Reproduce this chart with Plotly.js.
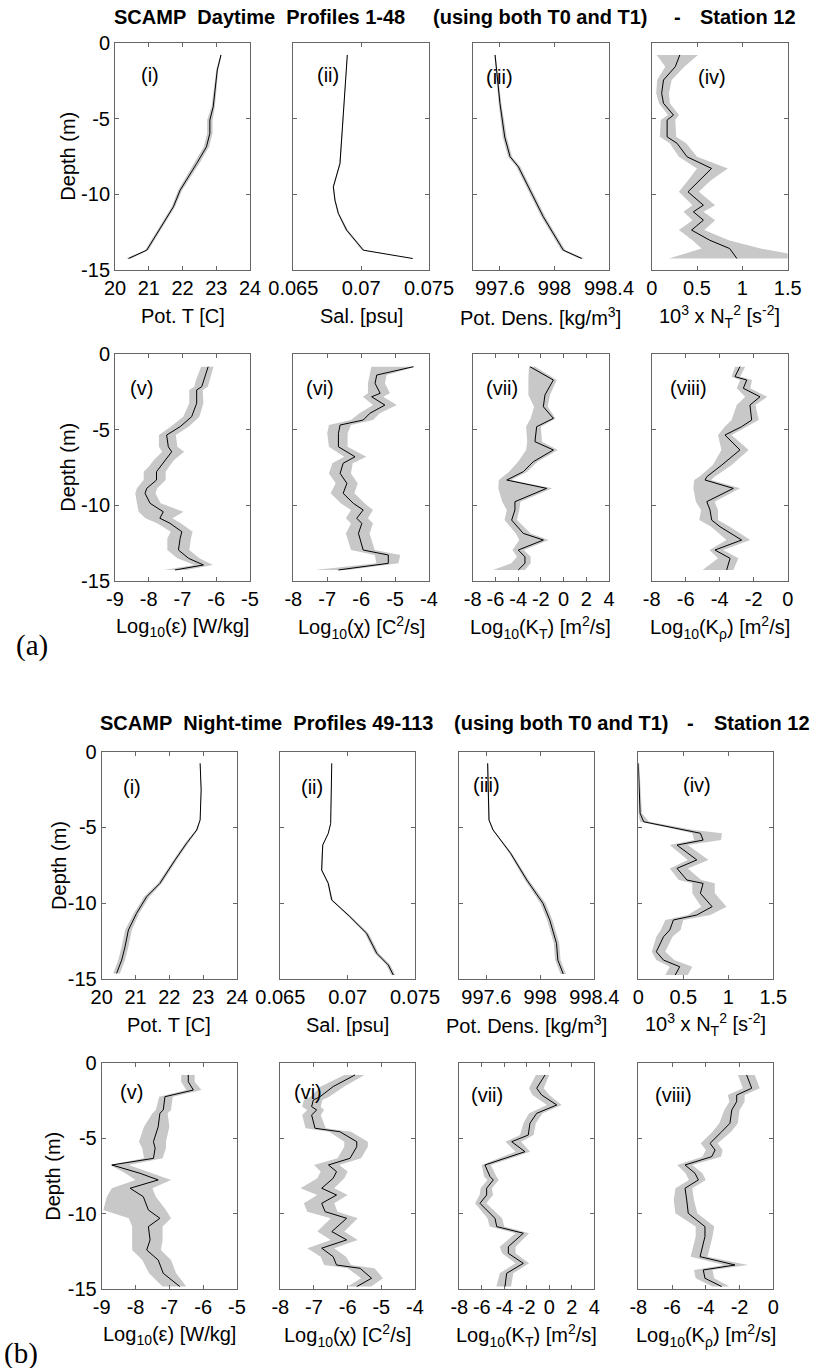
<!DOCTYPE html>
<html>
<head>
<meta charset="utf-8">
<script src="https://cdn.plot.ly/plotly-3.0.1.min.js"></script>
<style>html,body{margin:0;padding:0;background:#fff;}#chart{width:820px;height:1368px;}</style>
</head>
<body>
<div id="chart"></div>
<script>
// ===================== DATA =====================
// (a) Daytime, profiles 1-48
// (i) Potential temperature
const dayTDepth = [-0.77,-1.77,-4.2,-5.08,-5.96,-6.85,-7.95,-9.72,-10.82,-12.58,-13.69,-14.24];
const dayT      = [23.14,23.03,22.91,22.81,22.81,22.71,22.42,21.93,21.73,21.24,20.94,20.40];
const dayTErr   = [0.02,0.03,0.05,0.08,0.08,0.08,0.08,0.06,0.05,0.05,0.05,0.08];
// (ii) Salinity
const daySDepth = [-0.77,-5.08,-7.95,-9.5,-10.38,-11.26,-12.36,-13.69,-14.24];
const dayS      = [0.06898,0.06868,0.06844,0.06795,0.06807,0.06832,0.06893,0.07016,0.0738];
const daySErr   = [0.00003,0.00004,0.00005,0.00005,0.00005,0.00006,0.0001,0.0001,0.00015];
// (iii) Potential density
const dayDDepth = [-0.77,-3.97,-6.2,-7.5,-8.17,-11.48,-13.69,-14.24];
const dayD      = [997.564,997.6,997.635,997.674,997.735,997.918,998.065,998.2];
const dayDErr   = [0.005,0.01,0.015,0.015,0.015,0.015,0.015,0.02];
// (iv) 10^3 x N_T^2
const dayNDepth = [-0.77,-1.55,-2.43,-3.31,-3.97,-4.75,-5.08,-6.19,-6.62,-7.51,-8.28,-9.07,-9.83,-10.71,-11.15,-11.7,-12.36,-13.03,-13.58,-14.24];
const dayN      = [0.31,0.26,0.13,0.11,0.13,0.24,0.17,0.17,0.28,0.39,0.66,0.53,0.40,0.57,0.46,0.57,0.44,0.64,0.86,0.94];
const dayNLo    = [0.055,0.15,0.06,0.05,0.08,0.18,0.10,0.09,0.20,0.30,0.50,0.40,0.30,0.45,0.35,0.45,0.30,0.45,0.55,0.19];
const dayNHi    = [0.51,0.36,0.22,0.19,0.20,0.30,0.26,0.27,0.38,0.50,0.84,0.65,0.52,0.70,0.57,0.70,0.58,0.85,1.20,1.80];
// (v) log10 epsilon
const dayEDepth = [-0.82,-1.70,-2.14,-2.36,-3.24,-4.13,-4.79,-5.34,-6.12,-6.45,-7.0,-7.44,-7.77,-8.32,-8.87,-9.2,-9.86,-10.42,-10.85,-11.18,-11.74,-12.18,-12.95,-13.5,-13.94,-14.27];
const dayE      = [-6.24,-6.38,-6.43,-6.58,-6.58,-6.73,-7.07,-7.47,-7.42,-7.32,-7.50,-7.67,-7.77,-7.77,-8.06,-8.11,-7.96,-7.57,-7.67,-7.37,-7.02,-7.07,-7.12,-6.82,-6.38,-7.22];
const dayELo    = [-6.45,-6.60,-6.65,-6.80,-6.80,-6.98,-7.35,-7.70,-7.70,-7.60,-7.85,-8.00,-8.15,-8.15,-8.35,-8.40,-8.35,-8.30,-8.10,-7.75,-7.35,-7.45,-7.45,-7.15,-6.65,-7.55];
const dayEHi    = [-6.08,-6.20,-6.25,-6.40,-6.38,-6.50,-6.82,-7.20,-7.15,-6.95,-7.25,-7.40,-7.50,-7.50,-7.75,-7.80,-7.65,-6.97,-7.30,-7.05,-6.70,-6.75,-6.80,-6.50,-6.10,-6.90];
// (vi) log10 chi
const dayCDepth = [-0.82,-1.37,-1.92,-2.58,-2.81,-3.36,-3.9,-4.35,-4.68,-5.23,-6.12,-6.78,-7.21,-7.88,-8.54,-9.2,-9.86,-10.3,-10.85,-11.19,-11.85,-12.95,-13.28,-13.83,-14.27];
const dayC      = [-4.46,-5.54,-5.59,-5.44,-5.69,-5.30,-5.74,-5.94,-6.62,-6.67,-6.67,-6.18,-6.53,-6.62,-6.42,-6.53,-6.23,-5.94,-6.13,-5.98,-6.08,-5.94,-5.20,-5.20,-6.67];
const dayCLo    = [-5.70,-5.75,-5.80,-5.80,-5.95,-5.65,-6.05,-6.30,-6.95,-7.00,-6.95,-6.50,-6.85,-6.95,-6.75,-6.90,-6.60,-6.30,-6.45,-6.30,-6.45,-6.30,-5.60,-5.55,-7.35];
const dayCHi    = [-4.40,-5.25,-5.30,-5.15,-5.35,-4.95,-5.45,-5.65,-6.30,-6.40,-6.40,-5.85,-6.25,-6.30,-6.10,-6.20,-5.90,-5.65,-5.80,-5.65,-5.75,-5.60,-4.85,-4.90,-6.40];
// (vii) log10 K_T
const dayKTDepth = [-0.82,-1.70,-2.69,-3.47,-4.24,-4.79,-5.78,-6.33,-7.11,-7.77,-8.32,-8.87,-9.75,-10.3,-10.97,-11.85,-12.29,-12.95,-13.4,-13.83,-14.27];
const dayKT      = [-2.96,-0.90,-1.64,-1.78,-0.90,-2.37,-2.52,-0.90,-2.67,-3.55,-5.0,-1.49,-4.28,-4.28,-4.57,-3.55,-1.78,-3.99,-3.40,-3.40,-3.99];
const dayKTLo    = [-3.05,-3.1,-3.1,-2.6,-2.9,-3.3,-3.2,-3.3,-4.0,-4.8,-5.7,-5.75,-5.4,-5.0,-5.2,-4.2,-3.9,-4.5,-4.1,-4.6,-6.2];
const dayKTHi    = [-2.5,-0.6,-1.2,-1.4,-0.7,-2.0,-1.9,-0.5,-2.3,-3.2,-4.6,-1.0,-3.8,-3.9,-4.1,-2.9,-1.3,-3.5,-2.9,-2.9,-3.4];
// (viii) log10 K_rho
const dayKRDepth = [-0.82,-1.48,-1.70,-2.25,-2.81,-3.36,-4.35,-4.79,-5.34,-6.33,-7.33,-8.1,-8.32,-8.87,-9.75,-10.3,-10.97,-11.41,-12.29,-12.95,-13.5,-14.27];
const dayKR      = [-2.81,-3.1,-2.41,-2.61,-1.63,-2.22,-2.12,-2.71,-3.69,-2.81,-3.88,-4.76,-4.86,-3.2,-4.76,-4.57,-4.47,-3.98,-2.71,-4.28,-3.39,-3.59];
const dayKRLo    = [-3.1,-3.3,-2.8,-3.0,-2.5,-3.0,-3.3,-3.7,-4.1,-3.9,-4.4,-5.2,-5.5,-5.55,-5.4,-5.1,-5.2,-4.5,-3.6,-4.6,-4.1,-5.0];
const dayKRHi    = [-2.5,-2.8,-2.1,-2.2,-1.2,-1.9,-1.7,-2.4,-3.3,-2.3,-3.3,-4.3,-4.5,-2.8,-4.3,-4.1,-4.1,-3.4,-2.2,-3.8,-2.9,-3.2];

// (b) Night-time, profiles 49-113
const nightTDepth = [-0.77,-2.53,-4.51,-5.17,-6.05,-7.15,-8.70,-9.58,-10.68,-11.78,-12.89,-13.77,-14.65];
const nightT      = [22.91,22.94,22.91,22.81,22.51,22.17,21.72,21.33,21.03,20.79,20.69,20.59,20.44];
const nightTErr   = [0.01,0.01,0.01,0.03,0.05,0.05,0.06,0.08,0.08,0.1,0.1,0.1,0.1];
const nightSDepth = [-0.77,-4.74,-5.40,-6.17,-7.82,-8.70,-9.80,-10.90,-12.00,-13.32,-14.10,-14.76];
const nightS      = [0.06882,0.06874,0.06856,0.06815,0.06807,0.06856,0.06882,0.07017,0.07141,0.07216,0.07302,0.07339];
const nightSErr   = [0.00002,0.00002,0.00003,0.00004,0.00005,0.00006,0.00007,0.0001,0.00014,0.00015,0.00015,0.00015];
const nightDDepth = [-0.77,-4.51,-5.17,-6.71,-8.48,-10.02,-11.12,-12.66,-13.77,-14.69];
const nightD      = [997.61,997.62,997.65,997.78,997.90,998.02,998.07,998.12,998.13,998.17];
const nightDErr   = [0.005,0.005,0.005,0.01,0.015,0.02,0.02,0.02,0.02,0.02];
const nightNDepth = [-0.77,-4.07,-4.63,-5.18,-5.39,-5.84,-6.17,-7.15,-7.71,-8.48,-8.70,-9.36,-10.24,-10.79,-11.12,-11.78,-12.23,-13.22,-13.77,-14.21,-14.76];
const nightN      = [0.0,0.02,0.06,0.54,0.69,0.72,0.43,0.65,0.43,0.54,0.72,0.69,0.82,0.65,0.39,0.35,0.28,0.20,0.28,0.46,0.41];
const nightNLo    = [0,0,0.02,0.45,0.60,0.62,0.35,0.55,0.35,0.45,0.60,0.60,0.70,0.55,0.30,0.25,0.20,0.15,0.20,0.35,0.30];
const nightNHi    = [0.01,0.04,0.12,0.62,0.93,0.92,0.55,0.78,0.55,0.70,0.85,0.85,0.98,0.80,0.50,0.47,0.38,0.30,0.40,0.60,0.55];
const nightEDepth = [-0.81,-1.26,-1.81,-2.25,-3.13,-3.35,-4.24,-5.23,-5.66,-6.33,-6.77,-7.32,-7.76,-8.31,-8.87,-9.75,-10.30,-10.85,-11.73,-12.40,-13.06,-13.94,-14.82];
const nightE      = [-6.44,-6.44,-6.29,-7.13,-7.18,-7.28,-7.33,-7.47,-7.42,-7.47,-8.70,-7.87,-7.33,-8.16,-7.77,-7.62,-7.28,-7.62,-7.57,-7.67,-7.33,-7.18,-6.69];
const nightELo    = [-6.65,-6.65,-6.5,-7.3,-7.4,-7.5,-7.75,-7.9,-7.8,-7.75,-8.75,-8.3,-8.0,-8.7,-8.85,-8.95,-8.2,-8.1,-8.1,-8.1,-7.8,-7.6,-7.2];
const nightEHi    = [-6.25,-6.25,-6.05,-6.9,-6.95,-7.05,-7.0,-7.1,-7.1,-7.2,-8.2,-7.5,-6.95,-7.5,-7.4,-7.1,-6.95,-7.2,-7.2,-7.25,-6.95,-6.8,-6.5];
const nightCDepth = [-0.81,-1.58,-2.25,-2.47,-2.91,-3.13,-3.46,-4.34,-4.57,-5.23,-5.56,-6.33,-6.77,-7.21,-7.65,-8.31,-8.76,-9.31,-9.86,-10.30,-11.18,-11.73,-12.28,-12.84,-13.39,-13.61,-14.27,-14.82];
const nightC      = [-5.78,-6.43,-6.82,-7.02,-7.07,-6.92,-7.07,-6.97,-6.23,-5.73,-5.73,-5.93,-6.57,-6.33,-6.43,-6.77,-6.33,-6.77,-6.67,-6.03,-6.47,-6.03,-6.77,-6.43,-6.33,-5.63,-5.29,-5.73];
const nightCLo    = [-6.1,-6.8,-7.1,-7.3,-7.35,-7.2,-7.35,-7.25,-6.55,-6.1,-6.1,-6.3,-7.0,-6.8,-6.9,-7.4,-6.9,-7.3,-7.2,-6.5,-6.9,-6.5,-7.2,-6.8,-6.7,-6.0,-5.6,-6.0];
const nightCHi    = [-5.5,-6.1,-6.55,-6.75,-6.8,-6.7,-6.8,-6.65,-5.9,-5.4,-5.4,-5.6,-6.25,-6.0,-6.1,-6.4,-6.0,-6.4,-6.3,-5.7,-6.1,-5.7,-6.4,-6.05,-5.9,-5.2,-4.95,-5.3];
const nightKTDepth = [-0.81,-1.69,-2.14,-2.80,-3.35,-4.01,-4.79,-5.23,-5.89,-6.22,-6.77,-7.54,-7.76,-8.31,-8.76,-9.31,-10.30,-10.85,-11.29,-12.18,-12.62,-13.28,-13.94,-14.82];
const nightKT      = [-0.38,-1.12,-0.68,0.66,-1.12,-1.72,-1.87,-3.34,-2.16,-3.49,-5.72,-5.27,-4.98,-5.57,-5.57,-6.16,-4.83,-4.67,-2.31,-3.64,-3.64,-2.31,-3.79,-3.94];
const nightKTLo    = [-1.2,-1.8,-1.5,-0.2,-1.8,-2.3,-2.6,-3.9,-3.0,-4.2,-6.0,-5.8,-5.5,-6.1,-6.2,-6.6,-5.5,-5.3,-3.0,-4.4,-4.2,-3.0,-4.4,-4.7];
const nightKTHi    = [0.0,-0.5,0.0,1.1,-0.6,-1.2,-1.4,-2.5,-1.7,-3.0,-5.2,-4.7,-4.5,-5.1,-5.0,-5.6,-4.2,-4.0,-1.8,-3.0,-3.0,-1.8,-3.2,-3.4];
const nightKRDepth = [-0.81,-1.69,-2.14,-2.58,-3.13,-4.01,-4.57,-5.34,-5.78,-6.22,-6.77,-7.32,-7.76,-8.31,-9.09,-9.97,-10.85,-11.51,-12.84,-13.39,-13.72,-14.27,-14.82];
const nightKR      = [-1.58,-1.28,-2.17,-2.17,-2.46,-2.57,-3.06,-3.75,-3.45,-3.65,-5.23,-4.64,-4.44,-5.23,-5.13,-5.04,-4.05,-4.05,-4.34,-2.27,-4.15,-4.05,-3.06];
const nightKRLo    = [-2.1,-1.8,-2.7,-2.6,-2.9,-3.2,-3.6,-4.3,-4.0,-4.2,-5.7,-5.2,-5.0,-5.8,-5.9,-5.8,-4.6,-4.6,-4.9,-2.9,-4.7,-4.6,-3.6];
const nightKRHi    = [-1.1,-0.8,-1.7,-1.7,-2.0,-2.1,-2.5,-3.3,-3.0,-3.1,-4.8,-4.2,-4.0,-4.8,-4.7,-4.5,-3.5,-3.6,-3.9,-1.5,-3.6,-3.5,-2.6];

// Tick labels / axis texts
const tickT    = [20,21,22,23,24];
const tickS    = [0.065,0.07,0.075];
const tickSTxt = ['0.065','0.07','0.075'];
const tickD    = [997.6,998,998.4];
const tickDTxt = ['997.6','998','998.4'];
const tickN    = [0,0.5,1,1.5];
const tickNTxt = ['0','0.5','1','1.5'];
const tickE    = [-9,-8,-7,-6,-5];
const tickC    = [-8,-7,-6,-5,-4];
const tickKT   = [-8,-6,-4,-2,0,2,4];
const tickKR   = [-8,-6,-4,-2,0];
const depthTicks = [0,-5,-10,-15];
const titleA = ['SCAMP\u00a0 Daytime\u00a0 Profiles 1-48','(using both T0 and T1)','-','Station 12'];
const titleB = ['SCAMP\u00a0 Night-time\u00a0 Profiles 49-113','(using both T0 and T1)','-','Station 12'];
const panelTags = ['(i)','(ii)','(iii)','(iv)','(v)','(vi)','(vii)','(viii)'];
const xTitles = ['Pot. T [C]','Sal. [psu]','Pot. Dens. [kg/m<sup>3</sup>]','10<sup>3</sup> x N<sub>T</sub><sup>2</sup> [s<sup>-2</sup>]',
  'Log<sub>10</sub>(ε) [W/kg]','Log<sub>10</sub>(χ) [C<sup>2</sup>/s]','Log<sub>10</sub>(K<sub>T</sub>) [m<sup>2</sup>/s]','Log<sub>10</sub>(K<sub>ρ</sub>) [m<sup>2</sup>/s]'];

// ===================== BUILD =====================
const minus = (m,e)=>m.map((v,i)=>v-e[i]);
const plus  = (m,e)=>m.map((v,i)=>v+e[i]);

const profiles = [
  {d:dayTDepth, m:dayT, lo:minus(dayT,dayTErr), hi:plus(dayT,dayTErr)},
  {d:daySDepth, m:dayS, lo:minus(dayS,daySErr), hi:plus(dayS,daySErr)},
  {d:dayDDepth, m:dayD, lo:minus(dayD,dayDErr), hi:plus(dayD,dayDErr)},
  {d:dayNDepth, m:dayN, lo:dayNLo, hi:dayNHi},
  {d:dayEDepth, m:dayE, lo:dayELo, hi:dayEHi},
  {d:dayCDepth, m:dayC, lo:dayCLo, hi:dayCHi},
  {d:dayKTDepth, m:dayKT, lo:dayKTLo, hi:dayKTHi},
  {d:dayKRDepth, m:dayKR, lo:dayKRLo, hi:dayKRHi},
  {d:nightTDepth, m:nightT, lo:minus(nightT,nightTErr), hi:plus(nightT,nightTErr)},
  {d:nightSDepth, m:nightS, lo:minus(nightS,nightSErr), hi:plus(nightS,nightSErr)},
  {d:nightDDepth, m:nightD, lo:minus(nightD,nightDErr), hi:plus(nightD,nightDErr)},
  {d:nightNDepth, m:nightN, lo:nightNLo, hi:nightNHi},
  {d:nightEDepth, m:nightE, lo:nightELo, hi:nightEHi},
  {d:nightCDepth, m:nightC, lo:nightCLo, hi:nightCHi},
  {d:nightKTDepth, m:nightKT, lo:nightKTLo, hi:nightKTHi},
  {d:nightKRDepth, m:nightKR, lo:nightKRLo, hi:nightKRHi}
];
const xCfg = [
  {range:[20,24], tv:tickT, tt:tickT.map(String)},
  {range:[0.065,0.075], tv:tickS, tt:tickSTxt},
  {range:[997.4,998.4], tv:tickD, tt:tickDTxt},
  {range:[0,1.5], tv:tickN, tt:tickNTxt},
  {range:[-9,-5], tv:tickE, tt:tickE.map(String)},
  {range:[-8,-4], tv:tickC, tt:tickC.map(String)},
  {range:[-8,4], tv:tickKT, tt:tickKT.map(String)},
  {range:[-8,0], tv:tickKR, tt:tickKR.map(String)}
];

const W=820, H=1368;
const colsA = [[115,250],[293.3,429],[472.7,609],[651.7,787.7]];
const colsB = [[101.7,237],[280.3,415],[459.3,594.3],[638.3,773.3]];
const rowsPx = [[43.3,270],[354.3,581],[751.7,978.7],[1062.7,1289.3]];
const depthTitleShift = [-47,-47,-42,-49];
const tagPos = [[0.26,0.14],[0.255,0.14],[0.2,0.147],[0.44,0.147],
                [0.198,0.15],[0.196,0.15],[0.213,0.15],[0.27,0.15],
                [0.222,0.154],[0.233,0.154],[0.203,0.147],[0.433,0.147],
                [0.222,0.128],[0.207,0.128],[0.203,0.143],[0.26,0.143]];

const FONT = 'Liberation Sans, Arial, Helvetica, sans-serif';
const FS = 20;
const traces = [];
const layout = {
  width:W, height:H, margin:{l:0,r:0,t:0,b:0},
  paper_bgcolor:'#fff', plot_bgcolor:'#fff', showlegend:false,
  font:{family:FONT, size:FS, color:'#000'},
  annotations:[]
};

for (let n=1; n<=16; n++) {
  const r = Math.floor((n-1)/4), c = (n-1)%4;
  const cols = r<2 ? colsA : colsB;
  const sfx = n===1 ? '' : String(n);
  const p = profiles[n-1];
  const cfg = xCfg[(r%2)*4 + c];
  traces.push({
    x: p.hi.concat(p.lo.slice().reverse()),
    y: p.d.concat(p.d.slice().reverse()),
    xaxis:'x'+sfx, yaxis:'y'+sfx, type:'scatter', mode:'lines',
    fill:'toself', fillcolor:'#c8c8c8', line:{width:0, color:'#c8c8c8'}, hoverinfo:'skip'
  });
  traces.push({
    x: p.m, y: p.d, xaxis:'x'+sfx, yaxis:'y'+sfx, type:'scatter', mode:'lines',
    line:{color:'#000', width:1}
  });
  const common = {showline:true, mirror:'ticks', linecolor:'#666', linewidth:1,
    ticks:'inside', ticklen:4, tickcolor:'#666', showgrid:false, zeroline:false,
    tickfont:{family:FONT, size:FS, color:'#000'}, fixedrange:true};
  layout['xaxis'+sfx] = Object.assign({}, common, {
    domain:[cols[c][0]/W, cols[c][1]/W], anchor:'y'+sfx,
    range:cfg.range, tickmode:'array', tickvals:cfg.tv, ticktext:cfg.tt
  });
  layout['yaxis'+sfx] = Object.assign({}, common, {
    domain:[1-rowsPx[r][1]/H, 1-rowsPx[r][0]/H], anchor:'x'+sfx,
    range:[-15,0], tickmode:'array', tickvals:depthTicks, ticktext:depthTicks.map(String),
    showticklabels: c===0
  });
  // panel tag
  layout.annotations.push({xref:'x'+sfx+' domain', yref:'y'+sfx+' domain',
    x:tagPos[n-1][0], y:1-tagPos[n-1][1], text:panelTags[(r%2)*4+c], showarrow:false,
    xanchor:'center', yanchor:'middle', font:{family:FONT, size:FS, color:'#000'}});
  // x title
  layout.annotations.push({xref:'x'+sfx+' domain', yref:'y'+sfx+' domain',
    x:0.5, y:0, yshift:-46, text:xTitles[(r%2)*4+c], showarrow:false,
    xanchor:'center', yanchor:'middle', font:{family:FONT, size:FS, color:'#000'}});
  if (c===0) {
    layout.annotations.push({xref:'x'+sfx+' domain', yref:'y'+sfx+' domain',
      x:0, xshift:depthTitleShift[r], y:0.5, text:'Depth (m)', textangle:-90, showarrow:false,
      xanchor:'center', yanchor:'middle', font:{family:FONT, size:FS, color:'#000'}});
  }
}

// Figure titles (centred pieces)
function addTitle(parts, xs, ypx) {
  parts.forEach((t,i)=>{
    layout.annotations.push({xref:'paper', yref:'paper', x:xs[i]/W, y:1-ypx/H,
      text:'<b>'+t+'</b>', showarrow:false, xanchor:'center', yanchor:'middle',
      font:{family:FONT, size:FS, color:'#000'}});
  });
}
addTitle(titleA, [259.5,540,677,748], 17);
addTitle(titleB, [266,561,690,761.5], 723);

// (a) / (b) labels
layout.annotations.push({xref:'paper', yref:'paper', x:32/W, y:1-645/H, text:'(a)', showarrow:false,
  xanchor:'center', yanchor:'middle', font:{family:'Liberation Serif, DejaVu Serif, serif', size:29, color:'#000'}});
layout.annotations.push({xref:'paper', yref:'paper', x:21/W, y:1-1353/H, text:'(b)', showarrow:false,
  xanchor:'center', yanchor:'middle', font:{family:'Liberation Serif, DejaVu Serif, serif', size:29, color:'#000'}});

Plotly.newPlot('chart', traces, layout, {staticPlot:true, displayModeBar:false});
</script>
</body>
</html>
